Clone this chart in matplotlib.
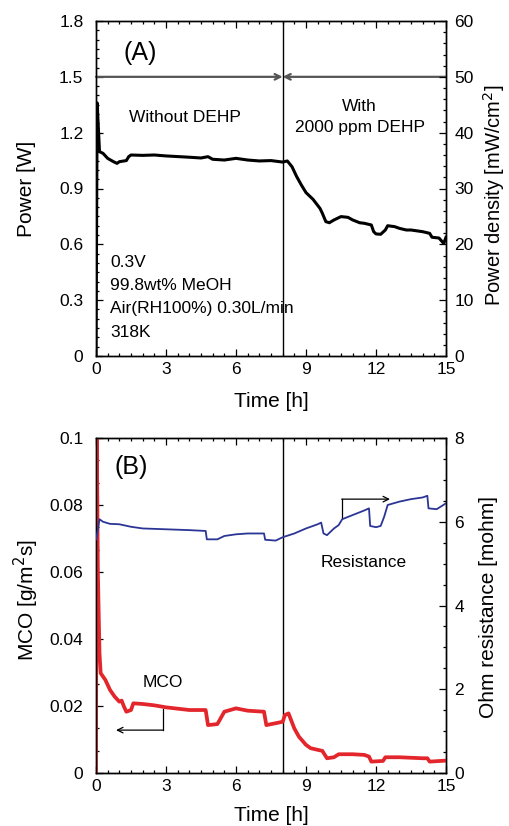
import matplotlib
matplotlib.use("Agg")
import matplotlib.pyplot as plt
from matplotlib.ticker import MultipleLocator

plt.rcParams['font.family'] = ['Liberation Sans', 'DejaVu Sans']

# ---- Panel A data: power vs time ----
t_power = [0.0, 0.05, 0.15, 0.3, 0.5, 0.75, 0.9, 1.0, 1.3, 1.4, 1.5, 2.0, 2.5, 3.0, 4.0, 4.5,
           4.8, 5.0, 5.5, 6.0, 6.5, 7.0, 7.5, 8.0, 8.2, 8.4, 8.6, 8.8, 9.0, 9.3, 9.6, 9.7,
           9.85, 10.0, 10.2, 10.5, 10.8, 11.0, 11.3, 11.5, 11.8, 11.9, 12.0, 12.2, 12.4,
           12.5, 12.8, 13.0, 13.3, 13.5, 14.0, 14.3, 14.4, 14.7, 14.9, 15.0]
power = [0.0, 1.36, 1.098, 1.089, 1.062, 1.044, 1.035, 1.044, 1.05, 1.071, 1.08, 1.078, 1.08,
         1.075, 1.068, 1.064, 1.071, 1.057, 1.053, 1.062, 1.053, 1.048, 1.05, 1.042, 1.048,
         1.017, 0.964, 0.919, 0.878, 0.842, 0.793, 0.767, 0.722, 0.716, 0.731, 0.749, 0.745,
         0.731, 0.716, 0.713, 0.704, 0.668, 0.656, 0.654, 0.677, 0.700, 0.695, 0.686, 0.677,
         0.677, 0.668, 0.659, 0.638, 0.634, 0.605, 0.638]

# ---- Panel B data: ohmic resistance vs time ----
t_res = [0.0, 0.05, 0.15, 0.3, 0.6, 1.0, 1.5, 2.0, 3.0, 4.0, 4.7, 4.75, 5.2, 5.5, 6.0, 6.5,
         7.2, 7.25, 7.7, 8.0, 8.5, 9.0, 9.5, 9.65, 9.75, 9.9, 10.2, 10.4, 10.55, 11.0, 11.5,
         11.7, 11.75, 12.0, 12.2, 12.35, 12.5, 13.0, 13.5, 14.0, 14.2, 14.25, 14.6, 15.0]
resistance = [5.57, 5.72, 6.06, 6.0, 5.95, 5.94, 5.88, 5.84, 5.82, 5.80, 5.78, 5.58, 5.58,
              5.66, 5.70, 5.72, 5.72, 5.57, 5.55, 5.63, 5.72, 5.84, 5.94, 5.98, 5.72, 5.68,
              5.84, 5.92, 6.06, 6.16, 6.27, 6.32, 5.90, 5.87, 5.90, 6.12, 6.40, 6.48, 6.54,
              6.58, 6.62, 6.32, 6.30, 6.44]

# ---- Panel B data: methanol crossover vs time ----
t_mco = [0.0, 0.03, 0.08, 0.15, 0.2, 0.4, 0.6, 0.8, 1.0, 1.1, 1.2, 1.3, 1.5, 1.6, 2.0, 2.5,
         3.0, 4.0, 4.7, 4.8, 5.2, 5.3, 5.5, 6.0, 6.5, 7.2, 7.3, 7.8, 8.0, 8.1, 8.25, 8.5,
         8.7, 9.0, 9.2, 9.7, 9.9, 10.2, 10.4, 11.0, 11.5, 11.7, 11.8, 12.3, 12.4, 13.0,
         14.0, 14.2, 14.3, 15.0]
mco = [0.0, 0.105, 0.06, 0.0357, 0.0298, 0.0278, 0.0248, 0.0228, 0.0213, 0.0216, 0.0198,
       0.0183, 0.0188, 0.0208, 0.0206, 0.0202, 0.0196, 0.0188, 0.0188, 0.0143, 0.0146,
       0.0158, 0.0183, 0.0193, 0.0186, 0.0183, 0.0143, 0.0150, 0.0153, 0.0173, 0.0178,
       0.0133, 0.0108, 0.0084, 0.0074, 0.0066, 0.0044, 0.0047, 0.0056, 0.0056, 0.0054,
       0.0049, 0.0034, 0.0036, 0.0047, 0.0047, 0.0044, 0.0044, 0.0034, 0.0037]

conditions = ["0.3V", "99.8wt% MeOH", "Air(RH100%) 0.30L/min", "318K"]
x_ticks = [0, 3, 6, 9, 12, 15]

W, H = 510, 826
fig = plt.figure(figsize=(W / 100, H / 100), dpi=100)

def box(l, t, r, b):
    return [l / W, 1 - b / H, (r - l) / W, (b - t) / H]

tick_fs = 12.5
lab_fs = 15
ann_fs = 12.5
panel_fs = 18

def style(ax):
    ax.tick_params(which='both', direction='in', labelsize=tick_fs, width=0.9)
    ax.tick_params(which='major', length=5)
    ax.tick_params(which='minor', length=2.5)
    for s in ax.spines.values():
        s.set_linewidth(1.0)

# ---------------- Panel A ----------------
axA = fig.add_axes(box(96, 21, 446, 356))
axA.plot(t_power, power, color='black', lw=2.2, zorder=3)
axA.set_xlim(0, 15)
axA.set_ylim(0, 1.8)
axA.set_xticks(x_ticks)
axA.xaxis.set_minor_locator(MultipleLocator(0.5))
axA.set_yticks([0, 0.3, 0.6, 0.9, 1.2, 1.5, 1.8])
axA.set_yticklabels(['0', '0.3', '0.6', '0.9', '1.2', '1.5', '1.8'])
axA.yaxis.set_minor_locator(MultipleLocator(0.05))
style(axA)
axA.tick_params(which='both', top=True, right=False)
axA.tick_params(axis='y', pad=9)
axA.tick_params(axis='x', pad=4)
axA.axvline(8, color='black', lw=1.0)
arrow_kw = dict(arrowstyle='->', color='#555555', lw=1.6, shrinkA=0, shrinkB=0)
axA.annotate('', xy=(8, 1.5), xytext=(0, 1.5), arrowprops=arrow_kw)
axA.annotate('', xy=(8, 1.5), xytext=(15, 1.5), arrowprops=arrow_kw)
axA.text(1.17, 1.628, '(A)', fontsize=panel_fs, ha='left', va='center')
axA.text(3.81, 1.279, 'Without DEHP', fontsize=ann_fs, ha='center', va='center')
axA.text(11.3, 1.34, 'With', fontsize=ann_fs, ha='center', va='center')
axA.text(11.3, 1.23, '2000 ppm DEHP', fontsize=ann_fs, ha='center', va='center')
for i, line in enumerate(conditions):
    axA.text(0.6, 0.505 - i * 0.1255, line, fontsize=ann_fs, ha='left', va='center')
axA.set_xlabel('Time [h]', fontsize=lab_fs, va='center')
axA.xaxis.set_label_coords(0.5, -0.137)
axA.set_ylabel('Power [W]', fontsize=lab_fs, va='center')
axA.yaxis.set_label_coords(-0.2, 0.5)

axA2 = axA.twinx()
axA2.set_ylim(0, 60)
axA2.yaxis.set_major_locator(MultipleLocator(10))
axA2.yaxis.set_minor_locator(MultipleLocator(2))
style(axA2)
axA2.tick_params(which='both', left=False, right=True, top=False)
axA2.tick_params(axis='y', pad=6)
axA2.set_ylabel('Power density [mW/cm$^2$]', fontsize=14.5, va='center')
axA2.yaxis.set_label_coords(1.137, 0.48)

# ---------------- Panel B ----------------
axB = fig.add_axes(box(96, 438, 446, 773))
axB.plot(t_mco, mco, color='#e3262b', lw=2.7, zorder=3)
axB.set_xlim(0, 15)
axB.set_ylim(0, 0.1)
axB.set_xticks(x_ticks)
axB.xaxis.set_minor_locator(MultipleLocator(0.5))
axB.set_yticks([0, 0.02, 0.04, 0.06, 0.08, 0.1])
axB.set_yticklabels(['0', '0.02', '0.04', '0.06', '0.08', '0.1'])
axB.yaxis.set_minor_locator(MultipleLocator(0.02 / 3))
style(axB)
axB.tick_params(which='both', top=True, right=False)
axB.tick_params(axis='y', pad=9)
axB.tick_params(axis='x', pad=4)
axB.axvline(8, color='black', lw=1.0)
axB.text(0.81, 0.0913, '(B)', fontsize=panel_fs, ha='left', va='center')
axB.text(2.85, 0.0269, 'MCO', fontsize=ann_fs, ha='center', va='center')
axB.set_xlabel('Time [h]', fontsize=lab_fs, va='center')
axB.xaxis.set_label_coords(0.5, -0.128)
axB.set_ylabel('MCO [g/m$^2$s]', fontsize=lab_fs, va='center')
axB.yaxis.set_label_coords(-0.2, 0.516)
axB.annotate('', xy=(0.86, 0.0128), xytext=(2.89, 0.0128),
             arrowprops=dict(arrowstyle='->', color='black', lw=0.9, shrinkA=0, shrinkB=0))
axB.plot([2.89, 2.89], [0.0128, 0.0192], color='black', lw=0.9)

axB2 = axB.twinx()
axB2.plot(t_res, resistance, color='#2b3595', lw=1.3, zorder=3)
axB2.set_ylim(0, 8)
axB2.yaxis.set_major_locator(MultipleLocator(2))
axB2.yaxis.set_minor_locator(MultipleLocator(0.5))
style(axB2)
axB2.tick_params(which='both', left=False, right=True, top=False)
axB2.tick_params(axis='y', pad=6)
axB2.set_ylabel('Ohm resistance [mohm]', fontsize=lab_fs, va='center')
axB2.yaxis.set_label_coords(1.12, 0.4955)
axB2.text(11.49, 5.02, 'Resistance', fontsize=ann_fs, ha='center', va='center')
axB2.plot([10.53, 10.53], [6.09, 6.54], color='black', lw=0.9)
axB2.annotate('', xy=(12.6, 6.54), xytext=(10.53, 6.54),
              arrowprops=dict(arrowstyle='->', color='black', lw=0.9, shrinkA=0, shrinkB=0))

fig.savefig('out.png', dpi=100)
